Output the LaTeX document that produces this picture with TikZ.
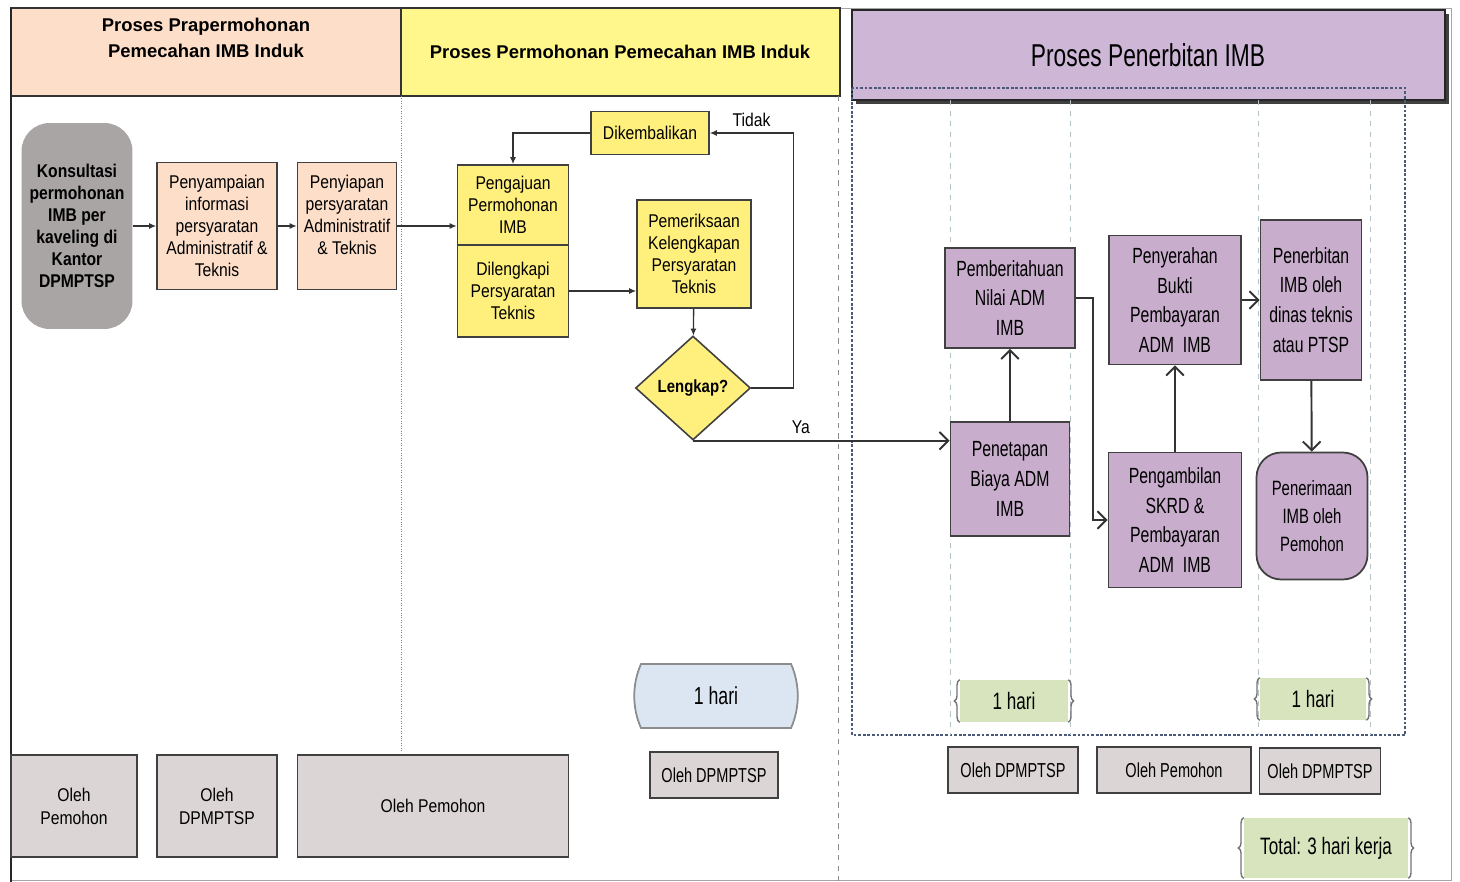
\documentclass[tikz,border=0pt]{standalone}
\usepackage{fontspec}
\setmainfont{Liberation Sans}
\newfontfamily\narrowfont{Liberation Sans}[FakeStretch=0.85]
\newfontfamily\tallfont{Liberation Sans}[FakeStretch=0.72]
\usepackage{tikz}
\usetikzlibrary{arrows.meta,shapes.geometric,shadows,decorations.pathreplacing}
\definecolor{praFill}{HTML}{FCDEC9}
\definecolor{mohonHead}{HTML}{FFF68C}
\definecolor{mohonFill}{HTML}{FFF07E}
\definecolor{terbitHead}{HTML}{CDB6D6}
\definecolor{terbitFill}{HTML}{C9ADCD}
\definecolor{startFill}{HTML}{A9A5A5}
\definecolor{olehFill}{HTML}{DBD5D5}
\definecolor{tapeFill}{HTML}{DCE6F2}
\definecolor{hariFill}{HTML}{D7E4BD}
\definecolor{laneLine}{HTML}{4A5A78}
\tikzstyle{pra box}=[draw=black!75, line width=0.9pt, fill=praFill, inner sep=1pt, align=center, font=\narrowfont\fontsize{10.5}{12.5}\selectfont]
\tikzstyle{mohon box}=[pra box, fill=mohonFill]
\tikzstyle{start box}=[fill=startFill, rounded corners=16pt, inner sep=1pt, align=center, font=\narrowfont\bfseries\fontsize{10.5}{12.5}\selectfont]
\tikzstyle{decision}=[diamond, draw=black!75, line width=0.9pt, fill=mohonFill, inner sep=0pt, font=\narrowfont\bfseries\fontsize{10}{12}\selectfont]
\tikzstyle{terbit box}=[draw=black!75, line width=1pt, fill=terbitFill, inner sep=1pt, align=center, font=\tallfont\fontsize{12.5}{17}\selectfont]
\tikzstyle{oleh box}=[draw=black!75, line width=0.9pt, fill=olehFill, inner sep=1pt, align=center]
\tikzstyle{hari box}=[fill=hariFill, inner sep=0pt, font=\tallfont\fontsize{13.5}{16}\selectfont]
\tikzstyle{brace side}=[draw=black!55, thick, decorate, decoration={brace, amplitude=3pt}]
\tikzstyle{flow}=[draw=black!80, thick, -{Latex[length=4pt,width=3.5pt]}]
\tikzstyle{flow open}=[draw=black!80, line width=1.1pt, -{Straight Barb[length=5pt,width=10pt]}]

\begin{document}
\begin{tikzpicture}[x=0.02cm, y=-0.02cm]
    \useasboundingbox (0,0) rectangle (1460,882);
    % Lane headers and frame
    \draw[black!35] (11,8) rectangle (1451,880);
    \draw[black!80, line width=1pt, fill=praFill] (11,8) rectangle (401,96);
    \draw[black!80, line width=1pt, fill=mohonHead] (401,8) rectangle (840,96);
    \filldraw[fill=terbitHead, draw=black!85, line width=1.4pt, drop shadow={fill=black!75, opacity=1, shadow xshift=2pt, shadow yshift=-2pt}] (852,10) rectangle (1445,100);
    \draw[black!85, line width=1.3pt] (11,8) -- (11,882);
    \node[font=\bfseries\fontsize{10.5}{14.5}\selectfont, align=center] (headpra) at (206,38) {Proses Prapermohonan\\Pemecahan IMB Induk};
    \node[font=\bfseries\fontsize{10.5}{13}\selectfont] (headmohon) at (620,52) {Proses Permohonan Pemecahan IMB Induk};
    \node[font=\tallfont\fontsize{18}{20}\selectfont] (headterbit) at (1148,55) {Proses Penerbitan IMB};

    % Lane separators
    \draw[black!50, densely dotted] (401,96) -- (401,752);
    \draw[black!45, dashed] (838,96) -- (838,882);
    \draw[laneLine, line width=1.6pt, densely dotted] (852,88) rectangle (1405,735);
    \foreach \x in {950,1070,1258,1370}
        \draw[cyan!30!black!35, dashed] (\x,100) -- (\x,735);

    % Prapermohonan
    \node[start box, minimum width=2.22cm, minimum height=4.12cm] (konsultasi) at (77,226) {Konsultasi\\permohonan\\IMB per\\kaveling di\\Kantor\\DPMPTSP};
    \node[pra box, minimum width=2.4cm, minimum height=2.54cm] (penyampaian) at (217,226) {Penyampaian\\informasi\\persyaratan\\Administratif \&\\Teknis};
    \node[pra box, minimum width=1.98cm, minimum height=2.54cm] (penyiapan) at (347,226) {Penyiapan\\persyaratan\\Administratif\\\& Teknis\\\mbox{}};

    % Permohonan
    \node[mohon box, minimum width=2.22cm, minimum height=1.6cm] (pengajuan) at (513,205) {Pengajuan\\Permohonan\\IMB};
    \node[mohon box, minimum width=2.22cm, minimum height=1.84cm] (dilengkapi) at (513,291) {Dilengkapi\\Persyaratan\\Teknis};
    \node[mohon box, minimum width=2.36cm, minimum height=0.86cm] (dikembalikan) at (650,133) {Dikembalikan};
    \node[mohon box, minimum width=2.28cm, minimum height=2.16cm] (pemeriksaan) at (694,254) {Pemeriksaan\\Kelengkapan\\Persyaratan\\Teknis};
    \node[decision, minimum width=2.3cm, minimum height=2.08cm] (lengkap) at (693,388) {Lengkap?};

    % Penerbitan
    \node[terbit box, minimum width=2.6cm, minimum height=2.0cm] (pemberitahuan) at (1010,298) {Pemberitahuan\\Nilai ADM\\IMB};
    \node[terbit box, minimum width=2.38cm, minimum height=2.28cm] (penetapan) at (1010,479) {Penetapan\\Biaya ADM\\IMB};
    \node[terbit box, minimum width=2.64cm, minimum height=2.58cm] (penyerahan) at (1175,300) {Penyerahan\\Bukti\\Pembayaran\\ADM~ IMB};
    \node[terbit box, minimum width=2.66cm, minimum height=2.7cm] (pengambilan) at (1175,520) {Pengambilan\\SKRD \&\\Pembayaran\\ADM~ IMB};
    \node[terbit box, minimum width=2.02cm, minimum height=3.2cm] (penerbitan) at (1311,300) {Penerbitan\\IMB oleh\\dinas teknis\\atau PTSP};
    \node[terbit box, rounded corners=14pt, minimum width=2.22cm, minimum height=2.54cm, font=\tallfont\fontsize{11.8}{16}\selectfont] (penerimaan) at (1312,516) {Penerimaan\\IMB oleh\\Pemohon};

    % Durations
    \draw[black!45, line width=1pt, fill=tapeFill] (641,664) -- (791,664) .. controls (800,684) and (800,708) .. (791,728) -- (641,728) .. controls (632,708) and (632,684) .. (641,664) -- cycle;
    \node[font=\tallfont\fontsize{14}{16}\selectfont] (hariMohon) at (716,696) {1 hari};
    \foreach \pos/\name/\w/\h/\txt in {(1014,701)/hariA/2.16cm/0.84cm/1 hari, (1313,699)/hariB/2.12cm/0.84cm/1 hari, (1326,848)/total/3.28cm/1.2cm/Total: 3 hari kerja}
        \node[hari box, minimum width=\w, minimum height=\h] (\name) at \pos {\txt};
    \foreach \name in {hariA,hariB,total} {
        \path[brace side] (\name.south west) -- (\name.north west);
        \path[brace side] (\name.north east) -- (\name.south east);
    }

    % Oleh boxes
    \foreach \pos/\name/\w/\txt in {(74,806)/olehA/2.52cm/{Oleh\\Pemohon}, (217,806)/olehB/2.4cm/{Oleh\\DPMPTSP}, (433,806)/olehC/5.42cm/{Oleh Pemohon}}
        \node[oleh box, minimum width=\w, minimum height=2.04cm, font=\narrowfont\fontsize{10.5}{13}\selectfont] (\name) at \pos {\txt};
    \foreach \pos/\name/\w/\txt in {(714,775)/olehD/2.56cm/Oleh DPMPTSP, (1013,770)/olehE/2.6cm/Oleh DPMPTSP, (1174,770)/olehF/3.08cm/Oleh Pemohon, (1320,771)/olehG/2.42cm/Oleh DPMPTSP}
        \node[oleh box, minimum width=\w, minimum height=0.93cm, font=\tallfont\fontsize{11.5}{13}\selectfont] (\name) at \pos {\txt};

    % Connect the steps
    \path[flow] (konsultasi) -- (penyampaian);
    \path[flow] (penyampaian) -- (penyiapan);
    \path[flow] (penyiapan) -- (penyiapan -| pengajuan.west);
    \path[flow] (dilengkapi.east) -- (dilengkapi.east -| pemeriksaan.west);
    \path[flow] (pemeriksaan) -- (lengkap);
    \path[flow] (lengkap.east) -- ++(42,0) |- (dikembalikan.east) node[pos=0.75, above, font=\narrowfont\fontsize{10.5}{12}\selectfont] {Tidak};
    \path[flow] (dikembalikan.west) -| (pengajuan.north);
    \path[flow open] (lengkap.south) -- (lengkap.south -| penetapan.west) node[pos=0.42, above, font=\narrowfont\fontsize{10.5}{12}\selectfont] {Ya};
    \path[flow open] (penetapan) -- (pemberitahuan);
    \path[flow open] (pemberitahuan.east) -- ++(17,0) |- (pengambilan.west);
    \path[flow open] (pengambilan) -- (penyerahan);
    \path[flow open] (penyerahan) -- (penerbitan);
    \path[flow open] (penerbitan) -- (penerimaan);
\end{tikzpicture}
\end{document}
